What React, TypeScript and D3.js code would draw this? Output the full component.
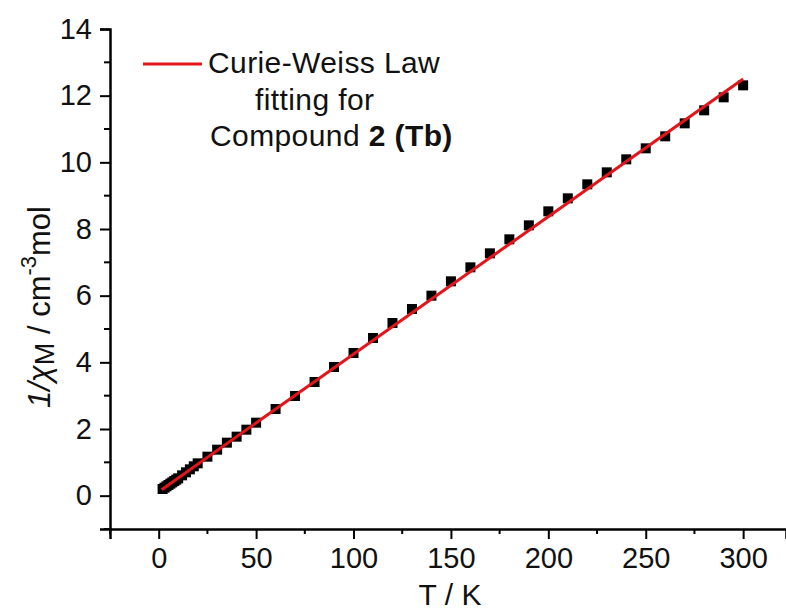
import * as d3 from "d3";
import { useEffect, useRef } from "react";

// measured points: temperature (K) and 1/chiM (cm^-3 mol)
const temps = [
  2, 3, 4, 5, 6, 7, 8, 9, 10, 12, 14, 16, 18, 20, 25, 30, 35, 40, 45, 50, 60,
  70, 80, 90, 100, 110, 120, 130, 140, 150, 160, 170, 180, 190, 200, 210, 220,
  230, 240, 250, 260, 270, 280, 290, 300,
];
const invChi = [
  0.2, 0.24, 0.28, 0.32, 0.36, 0.4, 0.44, 0.48, 0.52, 0.61, 0.7, 0.79, 0.88,
  0.97, 1.17, 1.38, 1.59, 1.77, 1.98, 2.19, 2.6, 2.99, 3.41, 3.86, 4.28, 4.73,
  5.18, 5.6, 6.0, 6.43, 6.85, 7.27, 7.69, 8.11, 8.53, 8.92, 9.34, 9.7, 10.09,
  10.42, 10.78, 11.17, 11.56, 11.95, 12.31,
];

// Curie-Weiss fit line end points
const fitT = [1.5, 300];
const fitY = [0.18, 12.5];

const xTicks = [0, 50, 100, 150, 200, 250, 300];
const xMinor = [-25, 25, 75, 125, 175, 225, 275];
const yTicks = [0, 2, 4, 6, 8, 10, 12, 14];
const yMinor = [-1, 1, 3, 5, 7, 9, 11, 13];

const App = () => {
  const svgRef = useRef(null);

  useEffect(() => {
    const svg = d3.select(svgRef.current);
    svg.selectAll("*").remove();

    const font = "'Liberation Sans', Arial, sans-serif";
    const red = "#e3151a";
    const x = d3.scaleLinear().domain([-25, 322]).range([110, 786]);
    const y = d3.scaleLinear().domain([-1, 14]).range([529, 29]);

    // axes
    const xAxis = d3
      .axisBottom(x)
      .tickValues(xTicks)
      .tickSize(10)
      .tickPadding(8)
      .tickFormat(d3.format("d"));
    const gx = svg.append("g").attr("transform", `translate(0, ${y(-1)})`).call(xAxis);
    gx.select(".domain").attr("stroke-width", 2.5);
    gx.selectAll(".tick line").attr("stroke-width", 2);
    gx.selectAll(".tick text")
      .attr("font-family", font)
      .attr("font-size", 29)
      .attr("fill", "#111");
    svg
      .append("g")
      .attr("transform", `translate(0, ${y(-1)})`)
      .selectAll("line")
      .data(xMinor)
      .enter()
      .append("line")
      .attr("x1", (d) => x(d))
      .attr("x2", (d) => x(d))
      .attr("y1", 0)
      .attr("y2", 5)
      .attr("stroke", "#000")
      .attr("stroke-width", 2);

    const yAxis = d3.axisLeft(y).tickValues(yTicks).tickSize(10).tickPadding(8);
    const gy = svg.append("g").attr("transform", `translate(${x(-25)}, 0)`).call(yAxis);
    gy.select(".domain").attr("stroke-width", 2.5);
    gy.selectAll(".tick line").attr("stroke-width", 2);
    gy.selectAll(".tick text")
      .attr("font-family", font)
      .attr("font-size", 29)
      .attr("fill", "#111");
    svg
      .append("g")
      .attr("transform", `translate(${x(-25)}, 0)`)
      .selectAll("line")
      .data(yMinor)
      .enter()
      .append("line")
      .attr("x1", -6)
      .attr("x2", 0)
      .attr("y1", (d) => y(d))
      .attr("y2", (d) => y(d))
      .attr("stroke", "#000")
      .attr("stroke-width", 2);

    // data squares
    const pts = temps.map((t, i) => [t, invChi[i]]);
    const s = 10;
    svg
      .append("g")
      .selectAll("rect")
      .data(pts)
      .enter()
      .append("rect")
      .attr("x", (d) => x(d[0]) - s / 2)
      .attr("y", (d) => y(d[1]) - s / 2)
      .attr("width", s)
      .attr("height", s)
      .attr("fill", "#000");

    // fit line
    const line = d3
      .line()
      .x((d) => x(d[0]))
      .y((d) => y(d[1]));
    svg
      .append("path")
      .attr("d", line(fitT.map((t, i) => [t, fitY[i]])))
      .attr("fill", "none")
      .attr("stroke", red)
      .attr("stroke-width", 3);

    // legend
    svg
      .append("line")
      .attr("x1", 143)
      .attr("x2", 202)
      .attr("y1", 64)
      .attr("y2", 64)
      .attr("stroke", red)
      .attr("stroke-width", 3);
    const lg = svg
      .append("g")
      .attr("font-family", font)
      .attr("font-size", 30)
      .attr("letter-spacing", 0.4)
      .attr("fill", "#111");
    lg.append("text").attr("x", 208).attr("y", 73).text("Curie-Weiss Law");
    lg.append("text").attr("x", 255).attr("y", 110).text("fitting for");
    const l3 = lg.append("text").attr("x", 210).attr("y", 146);
    l3.append("tspan").text("Compound ");
    l3.append("tspan").attr("font-weight", "bold").text("2 (Tb)");

    // axis titles
    svg
      .append("text")
      .attr("x", 450)
      .attr("y", 605)
      .attr("text-anchor", "middle")
      .attr("font-family", font)
      .attr("font-size", 30)
      .attr("fill", "#111")
      .text("T / K");

    const yl = svg
      .append("text")
      .attr("transform", "translate(50, 307) rotate(-90)")
      .attr("text-anchor", "middle")
      .attr("font-family", font)
      .attr("font-size", 31)
      .attr("fill", "#111");
    yl.append("tspan").attr("font-style", "italic").text("1/χ");
    yl.append("tspan").attr("font-size", 27).attr("dy", 4).text("M");
    yl.append("tspan").attr("dy", -4).text(" / cm");
    yl.append("tspan").attr("font-size", 22).attr("dy", -14).text("-3");
    yl.append("tspan").attr("dy", 14).text("mol");
  }, []);

  return (
    <div>
      <svg
        ref={svgRef}
        width={786}
        height={610}
        style={{ position: "absolute", left: 0, top: 0, background: "#fff" }}
      ></svg>
    </div>
  );
};

export default App;
